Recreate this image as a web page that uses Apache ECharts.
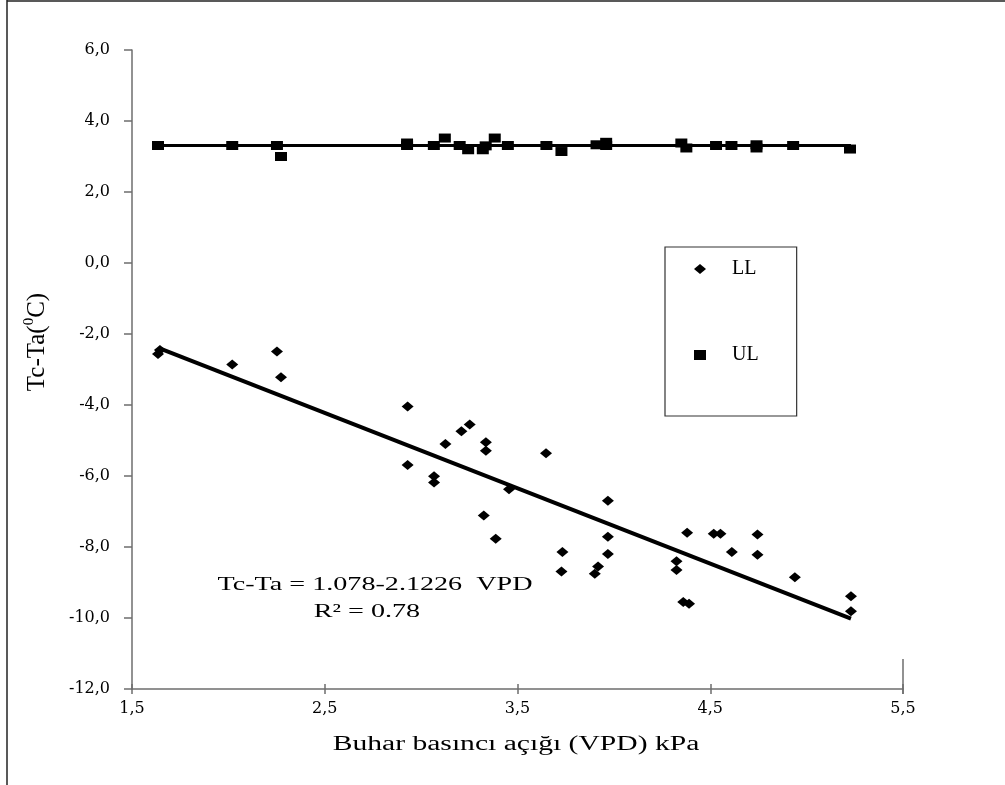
<!DOCTYPE html>
<html>
<head>
<meta charset="utf-8">
<script src="https://cdn.jsdelivr.net/npm/echarts@6/dist/echarts.min.js"></script>
<style>html,body{margin:0;padding:0;background:#fff;}#c{width:1005px;height:785px;}</style>
</head>
<body>
<div id="c"></div>
<script>
// LL (lower limit) points
const vpdLL = [1.635, 1.645, 2.02, 2.252, 2.273, 2.93, 2.93, 3.067, 3.067, 3.126, 3.209, 3.252, 3.336, 3.336, 3.325, 3.387, 3.456, 3.648, 3.733, 3.728, 3.918, 3.901, 3.969, 3.969, 3.969, 4.325, 4.325, 4.36, 4.39, 4.38, 4.518, 4.553, 4.612, 4.745, 4.745, 4.939, 5.23, 5.23];
const tcLL  = [-2.56, -2.45, -2.86, -2.49, -3.22, -4.04, -5.69, -6.01, -6.18, -5.10, -4.74, -4.55, -5.05, -5.29, -7.11, -7.77, -6.37, -5.36, -8.14, -8.69, -8.55, -8.75, -6.70, -7.71, -8.20, -8.40, -8.65, -9.55, -9.60, -7.60, -7.63, -7.63, -8.14, -7.65, -8.22, -8.85, -9.39, -9.81];
// UL (upper limit) points
const vpdUL = [1.635, 2.02, 2.252, 2.273, 2.927, 2.927, 3.066, 3.123, 3.20, 3.244, 3.32, 3.335, 3.382, 3.45, 3.65, 3.728, 3.91, 3.96, 3.96, 4.35, 4.376, 4.53, 4.61, 4.74, 4.74, 4.93, 5.225];
const tcUL  = [3.31, 3.31, 3.31, 3.00, 3.31, 3.38, 3.31, 3.52, 3.31, 3.19, 3.19, 3.30, 3.52, 3.31, 3.31, 3.14, 3.33, 3.40, 3.31, 3.38, 3.24, 3.31, 3.31, 3.24, 3.33, 3.31, 3.21];
// fitted lines (end points)
const fitLLx = [1.64, 5.23];
const fitLLy = [-2.40, -10.02];
const fitULx = [1.64, 5.23];
const fitULy = [3.31, 3.31];
// axis / text labels
const seriesNames = ['LL', 'UL'];
const xTitle = 'Buhar basıncı açığı (VPD) kPa';
const eqText = 'Tc-Ta = 1.078-2.1226  VPD';
const r2Text = 'R² = 0.78';

const zip = (a, b) => a.map((v, i) => [v, b[i]]);
const comma = v => v.toFixed(1).replace('.', ',');

const chart = echarts.init(document.getElementById('c'), null, {renderer: 'canvas'});
const axisColor = '#6e6e6e';
const option = {
  backgroundColor: '#ffffff',
  animation: false,
  grid: {left: 132, right: 102, top: 50, bottom: 96, containLabel: false},
  xAxis: [{
    type: 'value', min: 1.5, max: 5.5, interval: 1, position: 'bottom',
    axisLine: {show: true, onZero: false, lineStyle: {color: axisColor, width: 1.5}},
    axisTick: {show: true, inside: false, length: 5, lineStyle: {color: axisColor, width: 1.5}},
    axisLabel: {formatter: comma, margin: 12, color: '#000', fontFamily: 'DejaVu Serif', fontSize: 16},
    splitLine: {show: false}
  }, {
    type: 'value', min: 1.5, max: 5.5, interval: 1, position: 'bottom',
    axisLine: {show: false, onZero: false},
    axisTick: {show: true, inside: true, length: 5, lineStyle: {color: axisColor, width: 1.5}},
    axisLabel: {show: false},
    splitLine: {show: false}
  }],
  yAxis: {
    type: 'value', min: -12, max: 6, interval: 2,
    axisLine: {show: true, onZero: false, lineStyle: {color: axisColor, width: 1.5}},
    axisTick: {show: true, inside: false, length: 8, lineStyle: {color: axisColor, width: 1.5}},
    axisLabel: {formatter: comma, margin: 22, color: '#000', fontFamily: 'DejaVu Serif', fontSize: 16},
    splitLine: {show: false}
  },
  legend: {
    orient: 'vertical', left: 665, top: 247,
    data: [{name: 'LL', icon: 'diamond'}, {name: 'UL', icon: 'rect'}],
    itemWidth: 12, itemHeight: 10, itemGap: 66,
    padding: [12, 38, 51, 29],
    borderColor: '#333', borderWidth: 1.2, borderRadius: 0,
    itemStyle: {opacity: 1},
    textStyle: {color: '#000', fontFamily: 'Liberation Serif', fontSize: 20, padding: [0, 0, 0, 21]}
  },
  series: [
    {name: 'fitLL', type: 'line', data: zip(fitLLx, fitLLy), showSymbol: false, symbol: 'none',
     lineStyle: {color: '#000', width: 4}, z: 2, silent: true},
    {name: 'fitUL', type: 'line', data: zip(fitULx, fitULy), showSymbol: false, symbol: 'none',
     lineStyle: {color: '#000', width: 3}, z: 2, silent: true},
    {name: seriesNames[0], type: 'scatter', data: zip(vpdLL, tcLL), symbol: 'diamond', symbolSize: [12, 10],
     itemStyle: {color: '#000', opacity: 1}, z: 3},
    {name: seriesNames[1], type: 'scatter', data: zip(vpdUL, tcUL), symbol: 'rect', symbolSize: [12, 9],
     itemStyle: {color: '#000', opacity: 1}, z: 3}
  ]
};
chart.setOption(option);

// decorations and free texts
const pEnd = chart.convertToPixel({xAxisIndex: 0, yAxisIndex: 0}, [5.5, -12]);
chart.setOption({
  graphic: [
    {type: 'line', shape: {x1: 7, y1: 1, x2: 1005, y2: 1}, style: {stroke: '#222', lineWidth: 1.5}},
    {type: 'line', shape: {x1: 7, y1: 0, x2: 7, y2: 785}, style: {stroke: '#222', lineWidth: 1.5}},
    {type: 'line', shape: {x1: pEnd[0], y1: pEnd[1] - 30, x2: pEnd[0], y2: pEnd[1] + 5}, style: {stroke: axisColor, lineWidth: 1.5}},
    {type: 'text', x: 516, y: 745, scaleX: 1.48,
     style: {text: xTitle, fontFamily: 'Liberation Serif', fontSize: 20, fill: '#000', textAlign: 'center', textVerticalAlign: 'middle', align: 'center', verticalAlign: 'middle'}},
    {type: 'text', x: 375, y: 585, scaleX: 1.48,
     style: {text: eqText, fontFamily: 'Liberation Serif', fontSize: 19, fill: '#000', textAlign: 'center', textVerticalAlign: 'middle', align: 'center', verticalAlign: 'middle'}},
    {type: 'text', x: 367, y: 612, scaleX: 1.48,
     style: {text: r2Text, fontFamily: 'Liberation Serif', fontSize: 19, fill: '#000', textAlign: 'center', textVerticalAlign: 'middle', align: 'center', verticalAlign: 'middle'}},
    {type: 'text', x: 36, y: 342, rotation: Math.PI / 2,
     style: {text: '{a|Tc-Ta(}{b|0}{a|C)}', fill: '#000', textAlign: 'center', textVerticalAlign: 'middle', align: 'center', verticalAlign: 'middle',
       rich: {a: {fontFamily: 'Liberation Serif', fontSize: 25, lineHeight: 28, fill: '#000', color: '#000', verticalAlign: 'bottom'},
              b: {fontFamily: 'Liberation Serif', fontSize: 15, lineHeight: 28, fill: '#000', color: '#000', verticalAlign: 'top'}}}}
  ]
});
</script>
</body>
</html>
